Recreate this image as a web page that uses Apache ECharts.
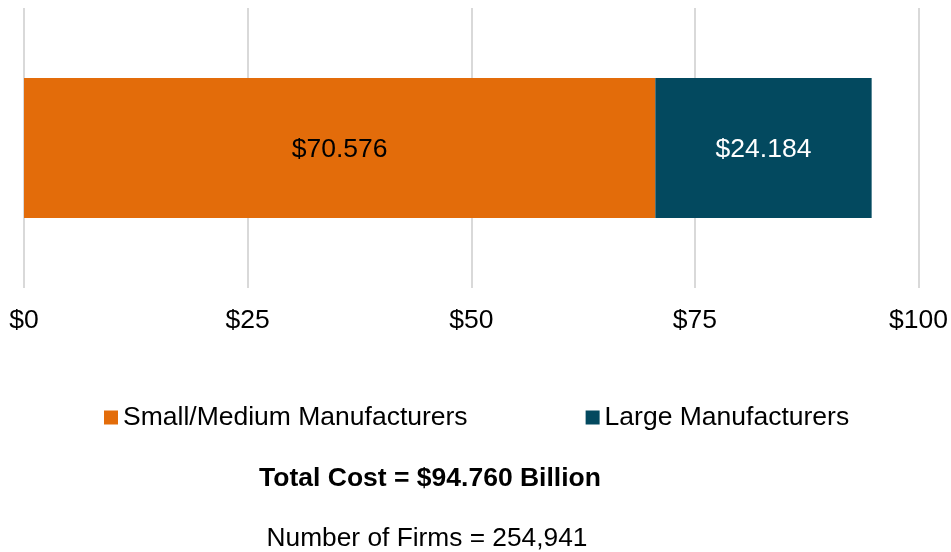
<!DOCTYPE html>
<html><head><meta charset="utf-8">
<script src="https://cdn.jsdelivr.net/npm/echarts@6/dist/echarts.min.js"></script>
<style>html,body{margin:0;padding:0;background:#fff}#c{width:951px;height:552px}</style>
</head><body><div id="c"></div>
<script>
const categories = ['Total'];
const seriesNames = ['Small/Medium Manufacturers', 'Large Manufacturers'];
const smallMedium = [70.576];
const large = [24.184];
const xTicks = [0, 25, 50, 75, 100];
const totalText = 'Total Cost = $94.760 Billion';
const firmsText = 'Number of Firms = 254,941';

const FONT = 'Liberation Sans, Arial, sans-serif';
const chart = echarts.init(document.getElementById('c'));
chart.setOption({
  animation: false,
  textStyle: { fontFamily: FONT },
  grid: { left: 24, right: 32, top: 8, bottom: 264, containLabel: false },
  xAxis: {
    type: 'value', min: xTicks[0], max: xTicks[xTicks.length - 1], interval: 25,
    axisLine: { show: false }, axisTick: { show: false },
    splitLine: { lineStyle: { color: '#D9D9D9', width: 2 } },
    axisLabel: { formatter: v => '$' + v, fontSize: 26.5, color: '#000', margin: 19, fontFamily: FONT }
  },
  yAxis: { type: 'category', data: categories, show: false },
  legend: {
    bottom: 116, left: 99, itemWidth: 14, itemHeight: 14, itemGap: 118,
    icon: 'rect',
    textStyle: { fontSize: 26.5, color: '#000', fontFamily: FONT },
    data: seriesNames
  },
  title: [
    { text: totalText, left: 425, top: 460, textAlign: 'center',
      textStyle: { fontSize: 26.5, fontWeight: 'bold', color: '#000', fontFamily: FONT } },
    { text: firmsText, left: 422, top: 521, textAlign: 'center',
      textStyle: { fontSize: 26.3, fontWeight: 'normal', color: '#000', fontFamily: FONT } }
  ],
  series: [
    { name: seriesNames[0], type: 'bar', stack: 't', data: smallMedium, barWidth: '50%',
      itemStyle: { color: '#E36C0A' },
      label: { show: true, position: 'inside', offset: [0, 2], formatter: p => '$' + p.value.toFixed(3), fontSize: 26.5, color: '#000', fontFamily: FONT } },
    { name: seriesNames[1], type: 'bar', stack: 't', data: large, barWidth: '50%',
      itemStyle: { color: '#03495F' },
      label: { show: true, position: 'inside', offset: [0, 2], formatter: p => '$' + p.value.toFixed(3), fontSize: 26.5, color: '#fff', fontFamily: FONT } }
  ]
});
</script></body></html>
